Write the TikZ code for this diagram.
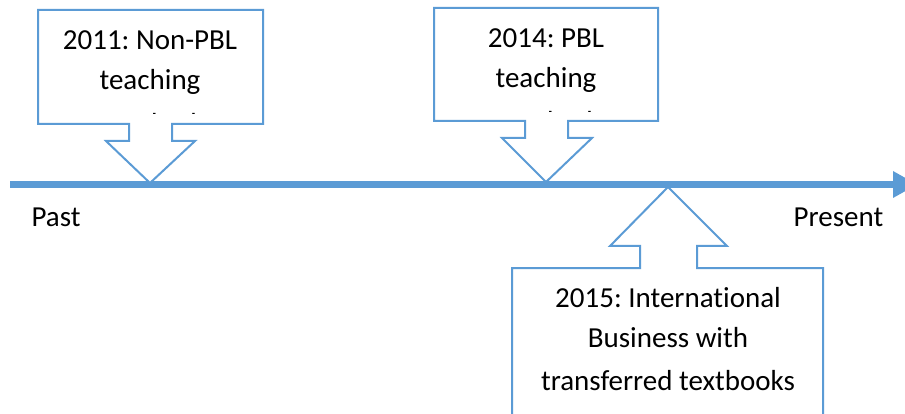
\documentclass[tikz,border=0pt]{standalone}
\usepackage{fontspec}
\setmainfont{Carlito}[Ligatures=CommonOff]
\frenchspacing
\definecolor{tlblue}{HTML}{5B9BD5}
\tikzset{
  callout/.style={draw=tlblue, line width=2pt, fill=white, line join=miter},
  txt/.style={anchor=base, inner sep=0pt, font=\fontsize{29}{40}\selectfont, text=black},
}
\begin{document}
\begin{tikzpicture}[x=1pt,y=-1pt]
\useasboundingbox (0,0) rectangle (905,414);
\clip (0,0) rectangle (905,414);
% timeline
\coordinate (tlstart) at (10,184.5);
\coordinate (tlend) at (895,184.5);
\draw[tlblue, line width=7pt] (tlstart) -- (tlend);
\fill[tlblue] (893,171) -- (893,198) -- (917,184.5) -- cycle;
% callout 1
\draw[callout] (38,10) -- (263,10) -- (263,124) -- (172,124) -- (172,141) -- (195,141) -- (150,183) -- (106,141) -- (129,141) -- (129,124) -- (38,124) -- cycle;
\node[txt] (a1) at (150,50) {2011: Non-PBL};
\node[txt] (a2) at (150,90) {teaching};
\begin{scope}
\clip (40,0) rectangle (261,114);
\node[txt] (a3) at (156,134) {methods};
\end{scope}
% callout 2
\draw[callout] (434,8) -- (658,8) -- (658,121) -- (568,121) -- (568,138) -- (592,138) -- (546,182) -- (502,138) -- (525,138) -- (525,121) -- (434,121) -- cycle;
\node[txt] (b1) at (546,48) {2014: PBL};
\node[txt] (b2) at (546,88) {teaching};
\begin{scope}
\clip (436,0) rectangle (656,112);
\node[txt] (b3) at (552,132) {methods};
\end{scope}
% callout 3
\draw[callout] (512,440) -- (512,268) -- (640,268) -- (640,246) -- (610,246) -- (668,187) -- (727,246) -- (697,246) -- (697,268) -- (823,268) -- (823,440) -- cycle;
\node[txt] (c1) at (668,307) {2015: International};
\node[txt] (c2) at (668,347) {Business with};
\node[txt] (c3) at (668,390) {transferred textbooks};
% labels
\node[txt] (past) at (56,227) {Past};
\node[txt] (present) at (838.5,227) {Present};
\end{tikzpicture}
\end{document}
